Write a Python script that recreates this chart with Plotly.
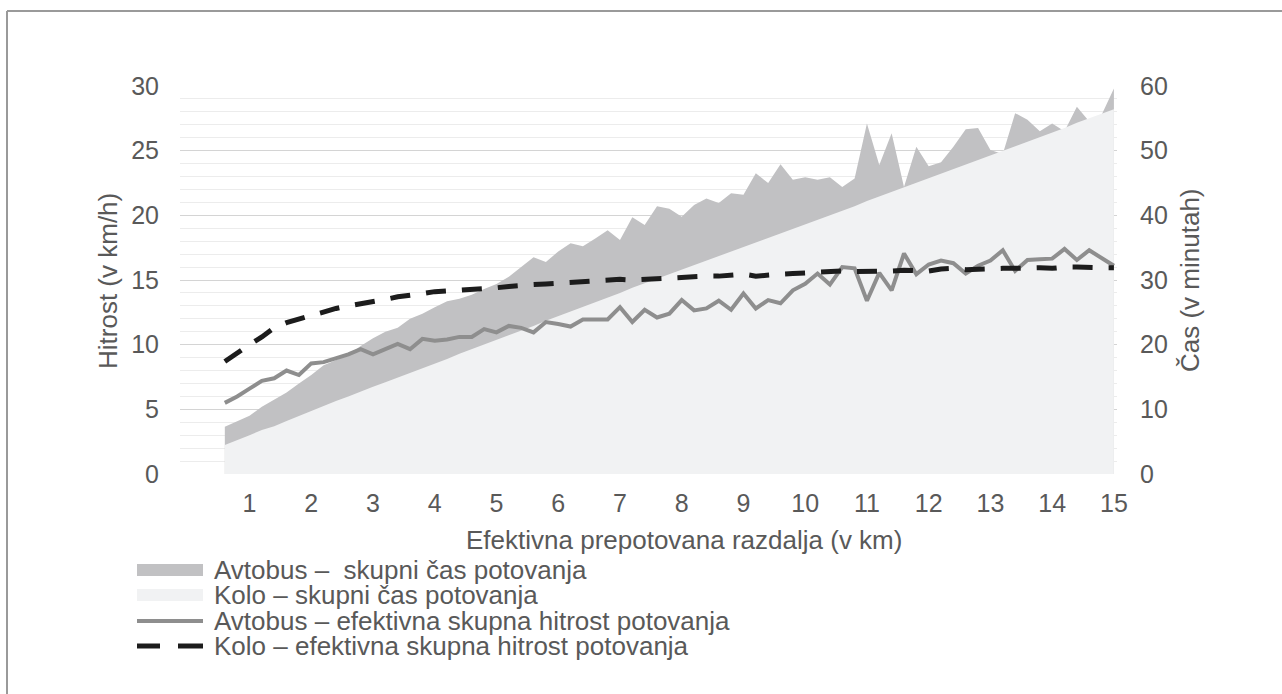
import plotly.graph_objects as go

# --- data ---
distance_km = [0.6, 0.8, 1.0, 1.2, 1.4, 1.6, 1.8, 2.0, 2.2, 2.4, 2.6, 2.8, 3.0, 3.2, 3.4,
               3.6, 3.8, 4.0, 4.2, 4.4, 4.6, 4.8, 5.0, 5.2, 5.4, 5.6, 5.8, 6.0, 6.2, 6.4,
               6.6, 6.8, 7.0, 7.2, 7.4, 7.6, 7.8, 8.0, 8.2, 8.4, 8.6, 8.8, 9.0, 9.2, 9.4,
               9.6, 9.8, 10.0, 10.2, 10.4, 10.6, 10.8, 11.0, 11.2, 11.4, 11.6, 11.8, 12.0,
               12.2, 12.4, 12.6, 12.8, 13.0, 13.2, 13.4, 13.6, 13.8, 14.0, 14.2, 14.4,
               14.6, 14.8, 15.0]

# total travel time in minutes (right axis)
bus_time_min = [7.3, 8.1, 9.0, 10.4, 11.5, 12.6, 14.0, 15.3, 16.8, 17.6, 18.4, 19.8, 21.0, 22.0, 22.6,
                24.0, 24.8, 25.8, 26.7, 27.1, 27.7, 28.6, 29.4, 30.5, 32.0, 33.5, 32.8, 34.4, 35.7, 35.2,
                36.4, 37.7, 36.2, 39.7, 38.5, 41.4, 41.0, 39.8, 41.6, 42.6, 41.9, 43.4, 43.2, 46.5, 45.0,
                47.9, 45.5, 45.9, 45.5, 45.9, 44.4, 45.7, 54.2, 47.8, 52.7, 44.4, 50.6, 47.6,
                48.2, 50.6, 53.3, 53.5, 50.1, 49.5, 55.8, 54.8, 53.0, 54.2, 53.0, 56.8,
                54.5, 55.5, 59.6]

bike_time_min = [4.5, 5.2, 6.0, 6.8, 7.4, 8.2, 9.0, 9.8, 10.5, 11.3, 12.0, 12.8, 13.5, 14.2, 14.9,
                 15.7, 16.3, 17.0, 17.8, 18.6, 19.3, 20.1, 20.8, 21.5, 22.2, 22.9, 23.7, 24.4, 25.1, 25.9,
                 26.6, 27.3, 28.0, 28.8, 29.5, 30.1, 30.8, 31.6, 32.3, 32.9, 33.7, 34.3, 35.0, 35.7, 36.4,
                 37.1, 37.8, 38.6, 39.3, 40.0, 40.7, 41.4, 42.2, 42.9, 43.6, 44.3, 45.0, 45.7,
                 46.4, 47.1, 47.8, 48.6, 49.3, 50.0, 50.7, 51.4, 52.1, 52.8, 53.5, 54.3,
                 55.0, 55.7, 56.4]

# effective total speed in km/h (left axis)
bus_speed_kmh = [5.5, 6.0, 6.6, 7.2, 7.4, 8.0, 7.65, 8.55, 8.65, 8.95, 9.25, 9.65, 9.25, 9.65, 10.05,
                 9.65, 10.45, 10.3, 10.4, 10.6, 10.6, 11.2, 10.95, 11.45, 11.3, 10.95, 11.75, 11.6, 11.4, 11.95,
                 11.95, 11.95, 12.9, 11.75, 12.7, 12.1, 12.4, 13.45, 12.65, 12.8, 13.4, 12.7, 13.95, 12.8, 13.45,
                 13.2, 14.2, 14.7, 15.5, 14.65, 16.0, 15.9, 13.4, 15.55, 14.2, 17.05, 15.45, 16.2,
                 16.5, 16.3, 15.5, 16.1, 16.5, 17.3, 15.7, 16.55, 16.6, 16.65, 17.4, 16.55,
                 17.3, 16.7, 16.1]

bike_speed_kmh = [8.7, 9.4, 10.0, 10.6, 11.3, 11.7, 12.0, 12.3, 12.6, 12.8, 13.0, 13.15, 13.3, 13.5, 13.7,
                  13.8, 13.95, 14.1, 14.15, 14.2, 14.3, 14.35, 14.4, 14.5, 14.6, 14.65, 14.7, 14.75, 14.8, 14.85,
                  14.9, 14.95, 15.05, 15.0, 15.05, 15.15, 15.2, 15.2, 15.25, 15.3, 15.3, 15.4, 15.45, 15.3, 15.4,
                  15.45, 15.5, 15.55, 15.6, 15.65, 15.7, 15.65, 15.65, 15.7, 15.7, 15.75, 15.75, 15.7,
                  15.85, 15.9, 15.8, 15.85, 15.9, 15.9, 15.9, 15.95, 15.95, 15.9, 16.0, 16.0,
                  15.95, 15.95, 15.95]

x_ticks = list(range(1, 16))
speed_ticks = [0, 5, 10, 15, 20, 25, 30]
time_ticks = [0, 10, 20, 30, 40, 50, 60]

names = ["Avtobus –  skupni čas potovanja",
         "Kolo – skupni čas potovanja",
         "Avtobus – efektivna skupna hitrost potovanja",
         "Kolo – efektivna skupna hitrost potovanja"]
x_title = "Efektivna prepotovana razdalja (v km)"
y_left_title = "Hitrost (v km/h)"
y_right_title = "Čas (v minutah)"

# --- style ---
W, H = 1282, 694
L, R, T, B = 180, 165, 86, 220
PW, PH = W - L - R, H - T - B
FONT = "Liberation Sans, Arial, sans-serif"
TXT = "#595959"
BUS_AREA = "#c1c1c3"
BIKE_AREA = "#f1f2f3"
BUS_LINE = "#8e8e8e"
BIKE_LINE = "#1c1c1c"


def px(xp):
    return (xp - L) / PW


def py(yp):
    return (H - B - yp) / PH


fig = go.Figure()
fig.add_trace(go.Scatter(x=distance_km, y=bus_time_min, name=names[0], mode="lines",
                         fill="tozeroy", fillcolor=BUS_AREA, line=dict(width=0, color=BUS_AREA),
                         yaxis="y", showlegend=False, hoverinfo="skip"))
fig.add_trace(go.Scatter(x=distance_km, y=bike_time_min, name=names[1], mode="lines",
                         fill="tozeroy", fillcolor=BIKE_AREA, line=dict(width=0, color=BIKE_AREA),
                         yaxis="y", showlegend=False, hoverinfo="skip"))
fig.add_trace(go.Scatter(x=distance_km, y=bus_speed_kmh, name=names[2], mode="lines",
                         line=dict(width=4, color=BUS_LINE), yaxis="y2",
                         showlegend=False, hoverinfo="skip"))
fig.add_trace(go.Scatter(x=distance_km, y=bike_speed_kmh, name=names[3], mode="lines",
                         line=dict(width=5, color=BIKE_LINE, dash="20px,16px"), yaxis="y2",
                         showlegend=False, hoverinfo="skip"))

tickfont = dict(family=FONT, size=25, color=TXT)
fig.update_layout(
    width=W, height=H,
    margin=dict(l=L, r=R, t=T, b=B, pad=0),
    paper_bgcolor="white", plot_bgcolor="white",
    font=dict(family=FONT, color=TXT),
    xaxis=dict(range=[-0.126, 15.05], tickmode="array", tickvals=x_ticks,
               ticktext=[str(v) for v in x_ticks], showgrid=False, zeroline=False,
               showline=False, ticks="", tickfont=tickfont, ticklabelstandoff=12,
               fixedrange=True),
    yaxis=dict(range=[0, 60], side="right", tickmode="array", tickvals=time_ticks,
               showgrid=True, gridcolor="#d4d4d4", gridwidth=1,
               minor=dict(dtick=2, showgrid=True, gridcolor="#ececec", gridwidth=1),
               zeroline=False, showline=False, ticks="", tickfont=tickfont,
               ticklabelstandoff=22, fixedrange=True),
    yaxis2=dict(range=[0, 30], overlaying="y", side="left", tickmode="array",
                tickvals=speed_ticks, showgrid=False, zeroline=False, showline=False,
                ticks="", tickfont=tickfont, ticklabelstandoff=20, fixedrange=True),
)

shapes = []
# outer frame (left and top edges, as in the reference crop)
shapes.append(dict(type="line", xref="paper", yref="paper", x0=px(7), x1=px(7),
                   y0=py(11), y1=py(H), line=dict(color="#9a9a9a", width=2)))
shapes.append(dict(type="line", xref="paper", yref="paper", x0=px(7), x1=px(W),
                   y0=py(11), y1=py(11), line=dict(color="#9a9a9a", width=2)))

# legend (drawn manually to match the reference layout)
rows = [570, 595, 621, 646]
sx0, sx1 = 137, 203
shapes.append(dict(type="rect", xref="paper", yref="paper", x0=px(sx0), x1=px(sx1),
                   y0=py(rows[0] + 6), y1=py(rows[0] - 6), fillcolor=BUS_AREA, line=dict(width=0)))
shapes.append(dict(type="rect", xref="paper", yref="paper", x0=px(sx0), x1=px(sx1),
                   y0=py(rows[1] + 6), y1=py(rows[1] - 6), fillcolor=BIKE_AREA, line=dict(width=0)))
shapes.append(dict(type="line", xref="paper", yref="paper", x0=px(sx0), x1=px(sx1),
                   y0=py(rows[2]), y1=py(rows[2]), line=dict(color=BUS_LINE, width=4)))
shapes.append(dict(type="line", xref="paper", yref="paper", x0=px(sx0), x1=px(160),
                   y0=py(rows[3]), y1=py(rows[3]), line=dict(color=BIKE_LINE, width=5)))
shapes.append(dict(type="line", xref="paper", yref="paper", x0=px(178), x1=px(sx1),
                   y0=py(rows[3]), y1=py(rows[3]), line=dict(color=BIKE_LINE, width=5)))

annotations = []
for name, yr in zip(names, rows):
    annotations.append(dict(text=name, xref="paper", yref="paper", x=px(212), y=py(yr),
                            xanchor="left", yanchor="middle", showarrow=False,
                            font=dict(family=FONT, size=26, color=TXT)))
annotations.append(dict(text=x_title, xref="paper", yref="paper", x=px(683.5), y=py(540),
                        xanchor="center", yanchor="middle", showarrow=False,
                        font=dict(family=FONT, size=26, color=TXT)))
annotations.append(dict(text=y_left_title, xref="paper", yref="paper", x=px(108), y=py(281),
                        xanchor="center", yanchor="middle", showarrow=False, textangle=-90,
                        font=dict(family=FONT, size=26, color=TXT)))
annotations.append(dict(text=y_right_title, xref="paper", yref="paper", x=px(1190), y=py(280),
                        xanchor="center", yanchor="middle", showarrow=False, textangle=-90,
                        font=dict(family=FONT, size=26, color=TXT)))

fig.update_layout(shapes=shapes, annotations=annotations)
fig.write_html("out.html", config={"displayModeBar": False},
               post_script="document.body.style.margin='0';document.body.style.overflow='hidden';")
